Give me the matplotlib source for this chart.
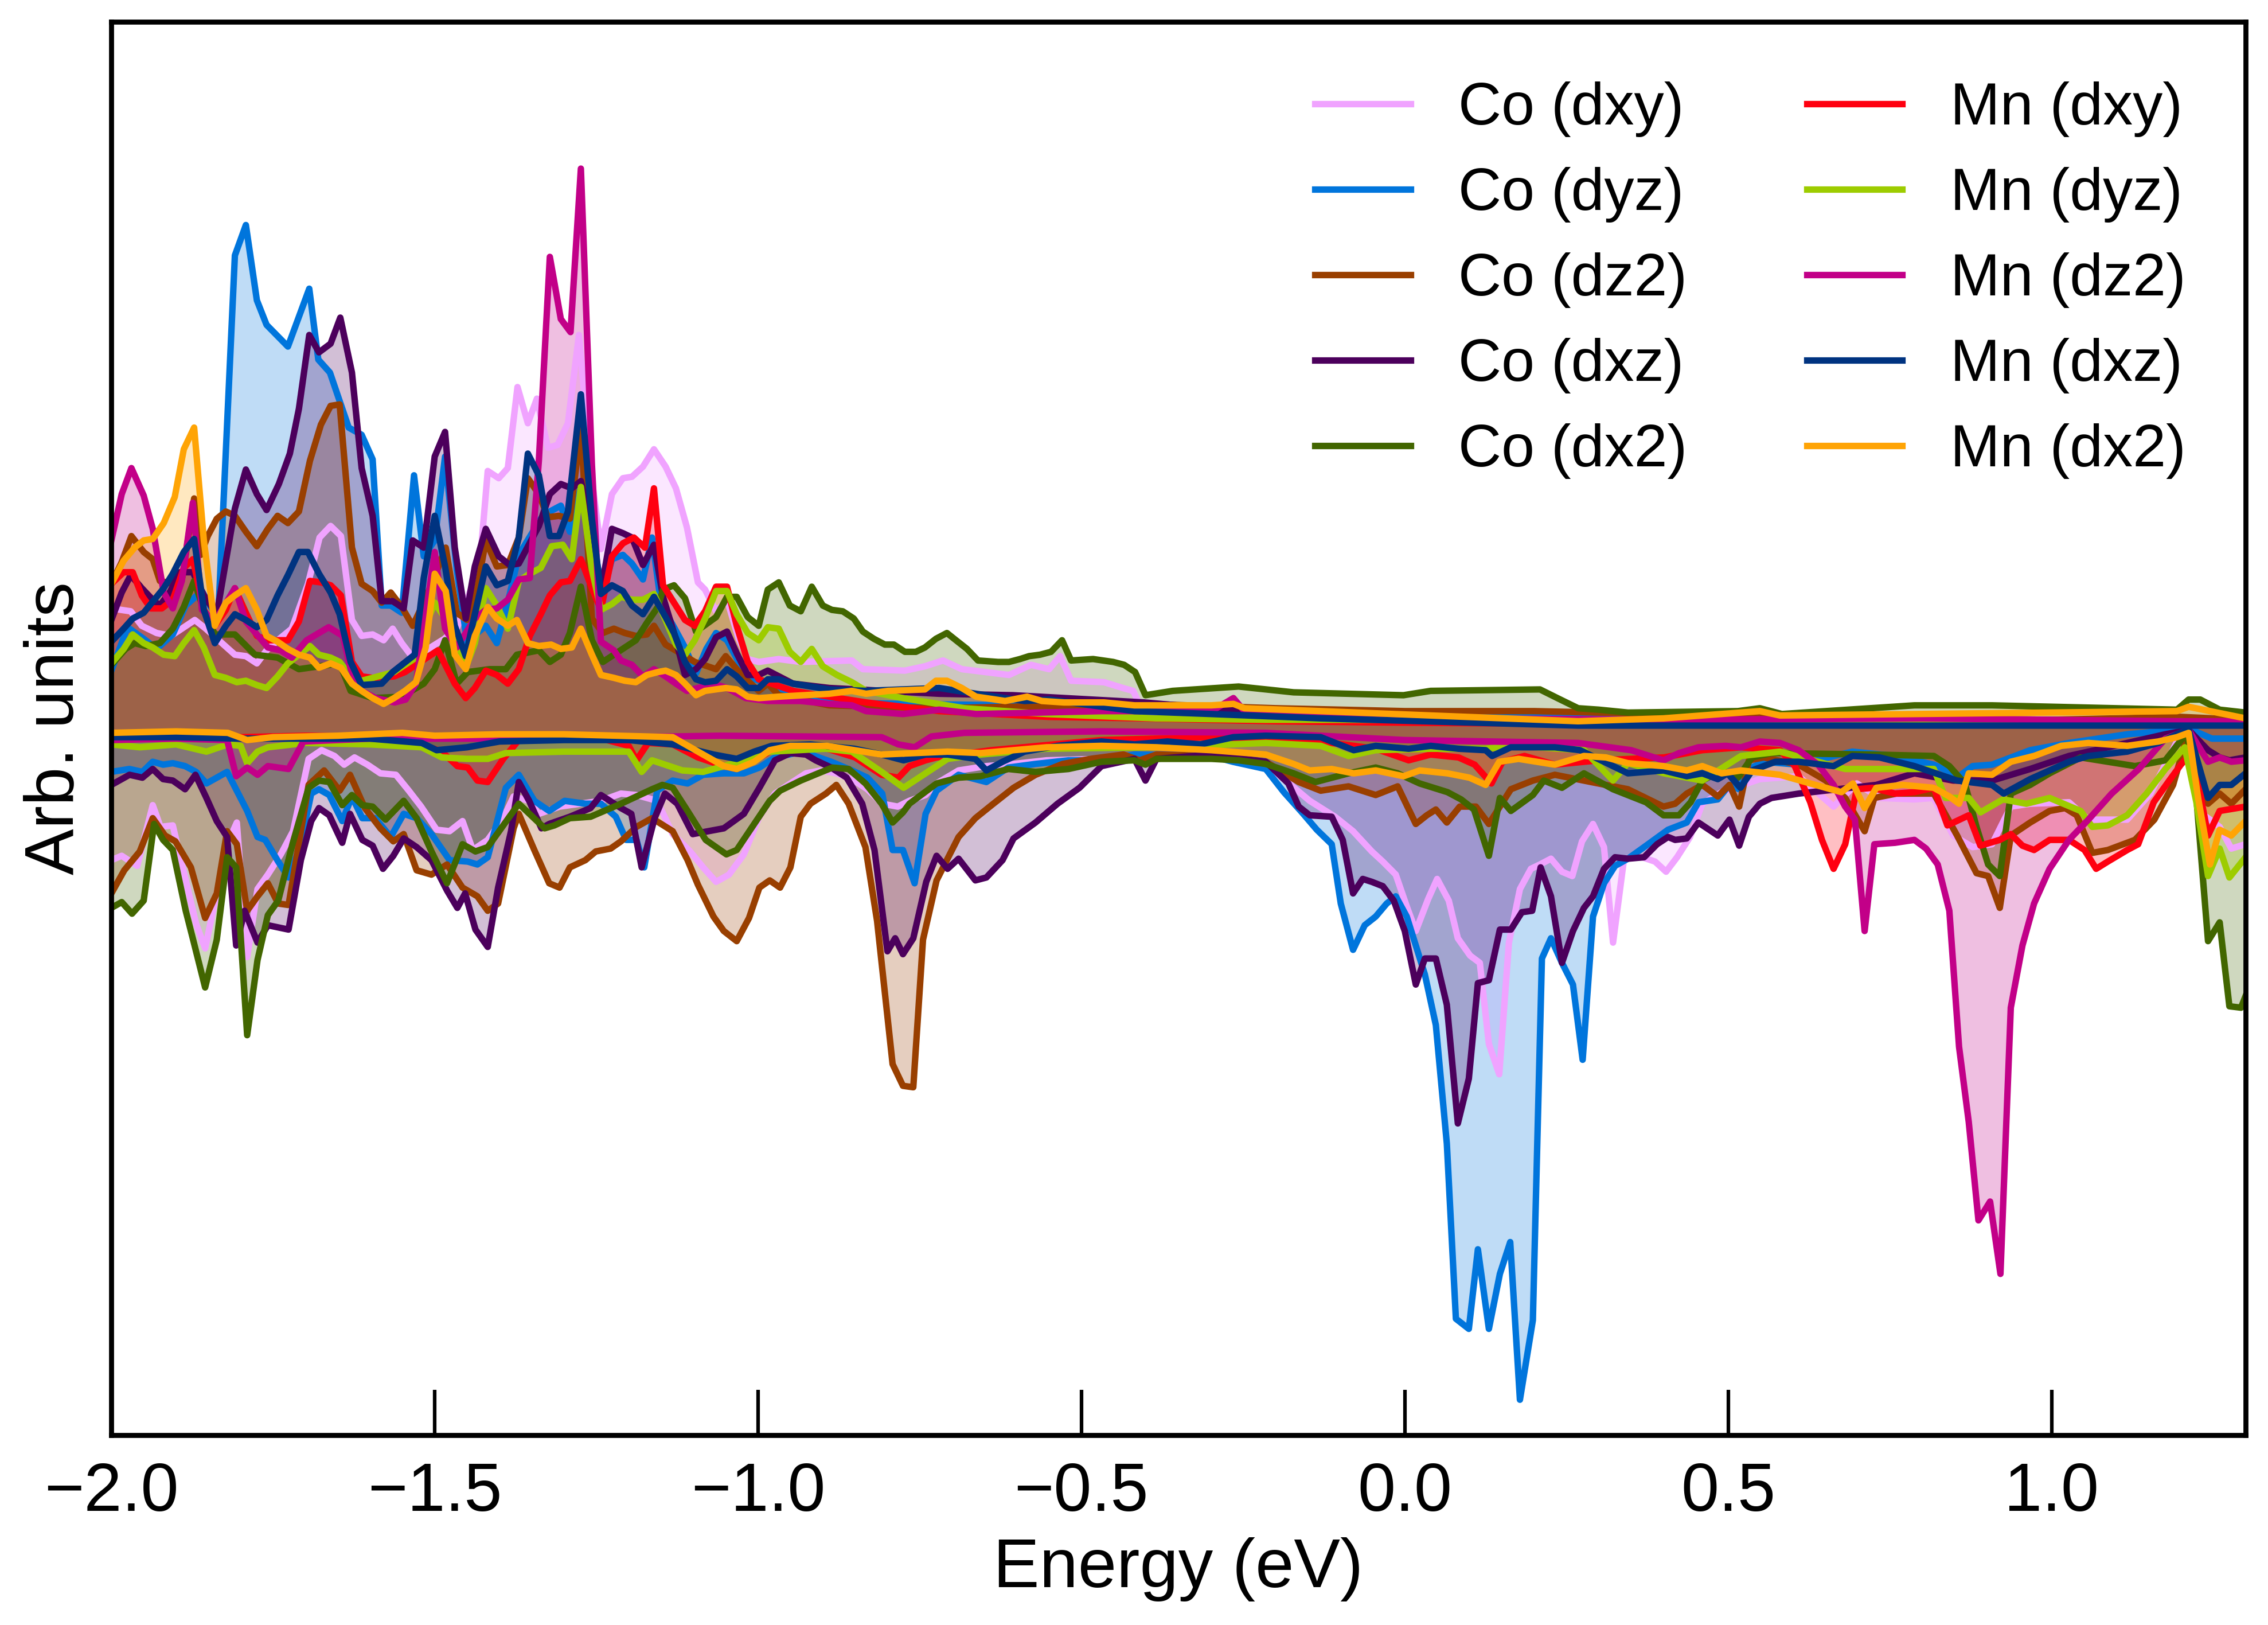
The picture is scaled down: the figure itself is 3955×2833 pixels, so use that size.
import matplotlib
matplotlib.use("Agg")
import matplotlib.pyplot as plt

# ---------------------------------------------------------------------------
# projected DOS: (energy [eV], DOS [arb.]) pairs
# spin up is positive, spin down negative
# ---------------------------------------------------------------------------
co_dxy_up = [(-2.0, 0.83), (-1.97, 0.81), (-1.953, 0.71), (-1.93, 0.66), (-1.908, 0.64), (-1.891, 0.69),
             (-1.871, 0.75), (-1.854, 0.69), (-1.834, 0.61), (-1.809, 0.51), (-1.792, 0.50), (-1.775, 0.45),
             (-1.76, 0.54), (-1.74, 0.62), (-1.721, 0.69), (-1.696, 1.00), (-1.678, 1.32), (-1.661, 1.40),
             (-1.645, 1.33), (-1.628, 0.75), (-1.613, 0.64), (-1.596, 0.65), (-1.579, 0.61), (-1.565, 0.69),
             (-1.551, 0.59), (-1.534, 0.49), (-1.51, 0.55), (-1.485, 0.62), (-1.465, 0.70), (-1.445, 0.95),
             (-1.43, 1.15), (-1.418, 1.78), (-1.401, 1.73), (-1.387, 1.80), (-1.372, 2.36), (-1.356, 2.11),
             (-1.342, 2.28), (-1.325, 1.94), (-1.31, 1.96), (-1.294, 2.11), (-1.277, 2.72), (-1.257, 1.72),
             (-1.243, 1.24), (-1.226, 1.62), (-1.209, 1.73), (-1.195, 1.74), (-1.178, 1.81), (-1.161, 1.93),
             (-1.143, 1.81), (-1.127, 1.66), (-1.11, 1.39), (-1.093, 1.01), (-1.082, 0.96), (-1.065, 0.81),
             (-1.048, 0.89), (-1.03, 0.62), (-1.016, 0.48), (-0.999, 0.46), (-0.968, 0.48), (-0.934, 0.46),
             (-0.855, 0.47), (-0.838, 0.41), (-0.773, 0.40), (-0.742, 0.43), (-0.714, 0.47), (-0.685, 0.41),
             (-0.612, 0.37), (-0.578, 0.44), (-0.55, 0.41), (-0.533, 0.50), (-0.516, 0.33), (-0.465, 0.32),
             (-0.436, 0.28), (-0.42, 0.26), (-0.403, 0.10), (-0.3, 0.08), (-0.1, 0.07), (0.1, 0.06), (0.3, 0.05),
             (0.5, 0.04), (0.7, 0.04), (0.9, 0.04), (1.1, 0.05), (1.21, 0.06), (1.3, 0.04)]
co_dxy_dn = [(-2.0, -0.91), (-1.984, -0.88), (-1.96, -0.95), (-1.936, -0.53), (-1.924, -0.68), (-1.905, -0.67),
             (-1.885, -1.05), (-1.869, -1.35), (-1.855, -1.52), (-1.837, -1.14), (-1.821, -0.80), (-1.806, -0.65),
             (-1.79, -1.58), (-1.774, -1.11), (-1.758, -1.01), (-1.738, -0.87), (-1.719, -0.71), (-1.695, -0.21),
             (-1.675, -0.15), (-1.655, -0.19), (-1.64, -0.25), (-1.624, -0.20), (-1.604, -0.25), (-1.584, -0.31),
             (-1.56, -0.32), (-1.54, -0.43), (-1.521, -0.54), (-1.497, -0.70), (-1.477, -0.71), (-1.457, -0.64),
             (-1.441, -0.84), (-1.418, -0.77), (-1.394, -0.62), (-1.378, -0.47), (-1.354, -0.50), (-1.339, -0.59),
             (-1.307, -0.54), (-1.275, -0.52), (-1.243, -0.50), (-1.212, -0.45), (-1.188, -0.46), (-1.156, -0.50),
             (-1.132, -0.73), (-1.105, -0.85), (-1.085, -0.96), (-1.065, -1.06), (-1.045, -1.01), (-1.022, -0.87),
             (-0.998, -0.61), (-0.974, -0.45), (-0.95, -0.38), (-0.926, -0.31), (-0.903, -0.29), (-0.879, -0.31),
             (-0.855, -0.35), (-0.831, -0.42), (-0.808, -0.52), (-0.784, -0.54), (-0.766, -0.50), (-0.741, -0.46),
             (-0.724, -0.38), (-0.69, -0.29), (-0.647, -0.26), (-0.605, -0.245), (-0.554, -0.22), (-0.469, -0.21),
             (-0.384, -0.19), (-0.299, -0.19), (-0.215, -0.245), (-0.147, -0.50), (-0.108, -0.61), (-0.08, -0.71),
             (-0.051, -0.85), (-0.034, -0.92), (-0.014, -1.01), (0.003, -1.23), (0.017, -1.40), (0.036, -1.18),
             (0.05, -1.04), (0.068, -1.19), (0.082, -1.45), (0.101, -1.57), (0.116, -1.62), (0.13, -2.18),
             (0.146, -2.39), (0.161, -1.48), (0.178, -1.11), (0.195, -0.97), (0.209, -0.94), (0.226, -0.90),
             (0.243, -0.99), (0.259, -1.02), (0.274, -0.78), (0.291, -0.66), (0.308, -0.82), (0.322, -1.48),
             (0.339, -0.90), (0.367, -0.89), (0.387, -0.92), (0.404, -0.99), (0.421, -0.89), (0.441, -0.75),
             (0.46, -0.52), (0.49, -0.44), (0.549, -0.35), (0.609, -0.33), (0.663, -0.54), (0.699, -0.38),
             (0.734, -0.48), (0.788, -0.49), (0.818, -0.48), (0.848, -0.74), (0.878, -0.82), (0.908, -0.80),
             (0.937, -0.54), (0.967, -0.52), (1.027, -0.51), (1.057, -0.63), (1.117, -0.63), (1.153, -0.45),
             (1.194, -0.09), (1.212, -0.01), (1.236, -0.60), (1.26, -0.68), (1.278, -0.83), (1.3, -0.80)]

co_dyz_up = [(-2.0, 0.40), (-1.975, 0.70), (-1.95, 0.62), (-1.93, 0.55), (-1.905, 0.65), (-1.885, 0.85),
             (-1.86, 0.95), (-1.835, 0.75), (-1.809, 3.27), (-1.792, 3.48), (-1.775, 2.96), (-1.76, 2.79),
             (-1.727, 2.64), (-1.694, 3.04), (-1.68, 2.55), (-1.662, 2.46), (-1.633, 2.08), (-1.613, 2.03),
             (-1.596, 1.86), (-1.582, 0.85), (-1.568, 0.85), (-1.551, 0.80), (-1.532, 1.75), (-1.517, 1.19),
             (-1.5, 1.30), (-1.484, 1.88), (-1.466, 1.10), (-1.45, 0.60), (-1.421, 0.71), (-1.404, 0.59),
             (-1.387, 0.87), (-1.37, 1.20), (-1.336, 1.45), (-1.322, 1.50), (-1.305, 1.54), (-1.291, 1.36),
             (-1.274, 1.67), (-1.257, 1.32), (-1.24, 0.94), (-1.226, 1.17), (-1.209, 1.20), (-1.195, 1.14),
             (-1.178, 1.03), (-1.164, 1.32), (-1.15, 0.86), (-1.13, 0.70), (-1.113, 0.56), (-1.096, 0.38),
             (-1.08, 0.55), (-1.065, 0.66), (-1.048, 0.61), (-1.03, 0.46), (-1.016, 0.36), (-0.999, 0.33),
             (-0.985, 0.31), (-0.946, 0.21), (-0.89, 0.18), (-0.776, 0.17), (-0.606, 0.16), (-0.403, 0.14),
             (-0.2, 0.12), (0.0, 0.10), (0.2, 0.09), (0.4, 0.08), (0.6, 0.07), (0.8, 0.06), (1.0, 0.06),
             (1.2, 0.05), (1.3, 0.05)]
co_dyz_dn = [(-2.0, -0.30), (-1.972, -0.28), (-1.952, -0.30), (-1.936, -0.23), (-1.92, -0.25), (-1.905, -0.24),
             (-1.886, -0.26), (-1.869, -0.30), (-1.853, -0.38), (-1.821, -0.30), (-1.79, -0.57), (-1.774, -0.75),
             (-1.762, -0.77), (-1.742, -0.92), (-1.726, -1.03), (-1.707, -0.80), (-1.691, -0.45), (-1.679, -0.42),
             (-1.663, -0.46), (-1.643, -0.64), (-1.628, -0.47), (-1.612, -0.62), (-1.592, -0.62), (-1.568, -0.75),
             (-1.548, -0.59), (-1.528, -0.62), (-1.505, -0.73), (-1.477, -0.91), (-1.449, -0.92), (-1.434, -0.94),
             (-1.418, -0.89), (-1.39, -0.41), (-1.37, -0.32), (-1.346, -0.50), (-1.323, -0.57), (-1.299, -0.50),
             (-1.267, -0.52), (-1.243, -0.52), (-1.22, -0.61), (-1.204, -0.77), (-1.188, -0.77), (-1.176, -0.96),
             (-1.156, -0.43), (-1.132, -0.36), (-1.109, -0.38), (-1.085, -0.32), (-1.053, -0.31), (-1.022, -0.31),
             (-0.998, -0.27), (-0.974, -0.20), (-0.942, -0.17), (-0.919, -0.18), (-0.887, -0.23), (-0.855, -0.29),
             (-0.831, -0.34), (-0.808, -0.45), (-0.792, -0.84), (-0.776, -0.84), (-0.758, -1.07), (-0.741, -0.59),
             (-0.724, -0.43), (-0.69, -0.32), (-0.647, -0.37), (-0.613, -0.27), (-0.571, -0.245), (-0.52, -0.22),
             (-0.469, -0.22), (-0.418, -0.18), (-0.299, -0.19), (-0.266, -0.23), (-0.215, -0.28), (-0.187, -0.44),
             (-0.159, -0.58), (-0.136, -0.70), (-0.113, -0.80), (-0.099, -1.21), (-0.08, -1.53), (-0.062, -1.36),
             (-0.045, -1.30), (-0.028, -1.21), (-0.014, -1.16), (0.003, -1.30), (0.031, -1.70), (0.048, -2.05),
             (0.065, -2.87), (0.079, -4.08), (0.099, -4.15), (0.113, -3.60), (0.13, -4.15), (0.147, -3.77),
             (0.163, -3.55), (0.178, -4.64), (0.198, -4.09), (0.212, -1.59), (0.226, -1.45), (0.243, -1.62),
             (0.26, -1.77), (0.275, -2.29), (0.291, -1.30), (0.308, -1.07), (0.325, -0.95), (0.345, -0.90),
             (0.37, -0.82), (0.407, -0.70), (0.436, -0.65), (0.454, -0.51), (0.484, -0.49), (0.502, -0.39),
             (0.517, -0.42), (0.532, -0.28), (0.555, -0.23), (0.609, -0.25), (0.692, -0.16), (0.758, -0.19),
             (0.818, -0.25), (0.857, -0.33), (0.878, -0.26), (0.908, -0.25), (0.967, -0.15), (1.027, -0.10),
             (1.117, -0.04), (1.194, -0.01), (1.212, 0.0), (1.248, -0.07), (1.3, -0.07)]

co_dz2_up = [(-2.0, 1.00), (-1.984, 1.15), (-1.969, 1.33), (-1.95, 1.22), (-1.936, 1.17), (-1.925, 1.02),
             (-1.905, 1.00), (-1.89, 1.05), (-1.872, 1.59), (-1.862, 1.20), (-1.851, 1.33), (-1.837, 1.45),
             (-1.823, 1.50), (-1.809, 1.47), (-1.792, 1.36), (-1.775, 1.26), (-1.758, 1.38), (-1.743, 1.47),
             (-1.727, 1.42), (-1.71, 1.50), (-1.693, 1.85), (-1.676, 2.10), (-1.661, 2.23), (-1.647, 2.24),
             (-1.628, 1.25), (-1.613, 1.00), (-1.596, 0.95), (-1.582, 0.87), (-1.568, 0.94), (-1.551, 0.84),
             (-1.534, 0.71), (-1.517, 0.87), (-1.5, 1.05), (-1.483, 1.25), (-1.466, 0.80), (-1.45, 0.75),
             (-1.435, 0.95), (-1.421, 1.30), (-1.404, 1.12), (-1.387, 1.13), (-1.37, 1.32), (-1.356, 1.73),
             (-1.339, 1.62), (-1.325, 1.46), (-1.308, 1.47), (-1.291, 1.45), (-1.274, 2.08), (-1.257, 0.76),
             (-1.24, 0.66), (-1.223, 0.69), (-1.206, 0.66), (-1.189, 0.64), (-1.172, 0.65), (-1.161, 0.71),
             (-1.143, 0.58), (-1.12, 0.52), (-1.098, 0.46), (-1.065, 0.41), (-1.05, 0.50), (-1.033, 0.41),
             (-1.016, 0.33), (-0.999, 0.26), (-0.985, 0.31), (-0.968, 0.23), (-0.89, 0.16), (-0.72, 0.14),
             (-0.403, 0.17), (-0.2, 0.14), (0.0, 0.12), (0.2, 0.12), (0.4, 0.10), (0.6, 0.08), (0.8, 0.07),
             (1.0, 0.06), (1.2, 0.08), (1.3, 0.06)]
co_dz2_dn = [(-2.0, -1.14), (-1.98, -0.98), (-1.956, -0.85), (-1.936, -0.62), (-1.917, -0.74), (-1.901, -0.78),
             (-1.877, -0.96), (-1.855, -1.31), (-1.837, -1.14), (-1.821, -0.71), (-1.806, -0.80), (-1.79, -1.26),
             (-1.774, -1.16), (-1.758, -1.07), (-1.742, -1.21), (-1.726, -1.22), (-1.695, -0.39), (-1.671, -0.29),
             (-1.647, -0.43), (-1.631, -0.32), (-1.608, -0.55), (-1.584, -0.69), (-1.564, -0.78), (-1.548, -0.73),
             (-1.528, -0.98), (-1.505, -1.01), (-1.481, -0.94), (-1.457, -1.10), (-1.434, -1.16), (-1.418, -1.26),
             (-1.402, -1.21), (-1.378, -0.69), (-1.37, -0.59), (-1.346, -0.84), (-1.323, -1.07), (-1.307, -1.10),
             (-1.291, -0.96), (-1.267, -0.91), (-1.251, -0.85), (-1.228, -0.83), (-1.212, -0.78), (-1.188, -0.68),
             (-1.164, -0.62), (-1.132, -0.71), (-1.109, -0.91), (-1.093, -1.08), (-1.069, -1.30), (-1.053, -1.40),
             (-1.033, -1.47), (-1.014, -1.31), (-0.998, -1.10), (-0.982, -1.05), (-0.966, -1.10), (-0.95, -0.96),
             (-0.934, -0.61), (-0.919, -0.52), (-0.895, -0.45), (-0.879, -0.39), (-0.86, -0.52), (-0.834, -0.82),
             (-0.816, -1.33), (-0.792, -2.32), (-0.776, -2.47), (-0.76, -2.48), (-0.745, -1.46), (-0.724, -1.05),
             (-0.707, -0.90), (-0.69, -0.75), (-0.664, -0.62), (-0.639, -0.53), (-0.605, -0.41), (-0.571, -0.32),
             (-0.529, -0.245), (-0.486, -0.21), (-0.435, -0.18), (-0.41, -0.22), (-0.384, -0.18), (-0.299, -0.19),
             (-0.215, -0.23), (-0.164, -0.37), (-0.13, -0.43), (-0.087, -0.40), (-0.045, -0.46), (-0.011, -0.40),
             (0.017, -0.66), (0.034, -0.60), (0.048, -0.56), (0.065, -0.65), (0.085, -0.54), (0.11, -0.54),
             (0.13, -0.66), (0.164, -0.42), (0.198, -0.36), (0.232, -0.32), (0.288, -0.37), (0.345, -0.42),
             (0.40, -0.54), (0.418, -0.52), (0.436, -0.45), (0.46, -0.39), (0.484, -0.47), (0.502, -0.39),
             (0.517, -0.54), (0.532, -0.22), (0.555, -0.20), (0.609, -0.25), (0.651, -0.36), (0.681, -0.48),
             (0.711, -0.71), (0.726, -0.48), (0.76, -0.45), (0.818, -0.45), (0.854, -0.74), (0.884, -1.00),
             (0.902, -1.02), (0.92, -1.24), (0.937, -0.74), (0.967, -0.65), (0.997, -0.57), (1.021, -0.55),
             (1.039, -0.60), (1.063, -0.86), (1.087, -0.84), (1.129, -0.77), (1.159, -0.63), (1.188, -0.39),
             (1.209, -0.06), (1.23, -0.45), (1.242, -0.52), (1.26, -0.45), (1.278, -0.52), (1.3, -0.42)]

co_dxz_up = [(-2.0, 0.75), (-1.984, 0.94), (-1.97, 1.06), (-1.953, 0.97), (-1.936, 0.89), (-1.925, 0.85),
             (-1.91, 0.94), (-1.894, 1.08), (-1.874, 1.08), (-1.857, 0.92), (-1.837, 0.79), (-1.809, 1.52),
             (-1.792, 1.79), (-1.775, 1.62), (-1.76, 1.51), (-1.741, 1.69), (-1.724, 1.90), (-1.71, 2.21),
             (-1.694, 2.72), (-1.679, 2.60), (-1.661, 2.66), (-1.646, 2.84), (-1.628, 2.46), (-1.613, 1.80),
             (-1.596, 1.47), (-1.582, 0.88), (-1.565, 0.88), (-1.548, 0.83), (-1.534, 1.30), (-1.517, 1.25),
             (-1.5, 1.88), (-1.484, 2.05), (-1.469, 1.25), (-1.452, 0.76), (-1.438, 1.12), (-1.421, 1.38),
             (-1.401, 1.19), (-1.384, 1.13), (-1.37, 1.14), (-1.339, 1.40), (-1.322, 1.62), (-1.305, 1.69),
             (-1.288, 1.66), (-1.274, 1.71), (-1.257, 1.37), (-1.243, 0.95), (-1.226, 1.38), (-1.209, 1.35),
             (-1.195, 1.32), (-1.178, 1.13), (-1.161, 1.27), (-1.147, 0.91), (-1.13, 0.66), (-1.113, 0.37),
             (-1.096, 0.41), (-1.082, 0.48), (-1.065, 0.63), (-1.048, 0.67), (-1.033, 0.52), (-1.016, 0.37),
             (-0.999, 0.37), (-0.985, 0.40), (-0.946, 0.31), (-0.89, 0.28), (-0.72, 0.24), (-0.606, 0.23),
             (-0.403, 0.18), (-0.2, 0.10), (0.0, 0.07), (0.3, 0.05), (0.6, 0.04), (0.9, 0.04), (1.2, 0.05),
             (1.3, 0.04)]
co_dxz_dn = [(-2.0, -0.39), (-1.972, -0.32), (-1.952, -0.34), (-1.936, -0.28), (-1.92, -0.35), (-1.905, -0.36),
             (-1.886, -0.42), (-1.87, -0.32), (-1.853, -0.48), (-1.837, -0.64), (-1.821, -0.75), (-1.807, -1.50),
             (-1.794, -1.26), (-1.774, -1.48), (-1.758, -1.36), (-1.726, -1.39), (-1.707, -0.91), (-1.691, -0.64),
             (-1.679, -0.55), (-1.663, -0.60), (-1.643, -0.79), (-1.631, -0.59), (-1.612, -0.77), (-1.596, -0.81),
             (-1.58, -0.97), (-1.564, -0.88), (-1.548, -0.76), (-1.528, -0.82), (-1.505, -0.91), (-1.481, -1.12),
             (-1.465, -1.24), (-1.453, -1.14), (-1.437, -1.39), (-1.418, -1.51), (-1.402, -1.10), (-1.382, -0.71),
             (-1.37, -0.37), (-1.354, -0.50), (-1.335, -0.69), (-1.323, -0.66), (-1.291, -0.61), (-1.259, -0.55),
             (-1.243, -0.46), (-1.212, -0.55), (-1.196, -0.59), (-1.18, -0.96), (-1.16, -0.62), (-1.144, -0.45),
             (-1.125, -0.52), (-1.109, -0.66), (-1.101, -0.73), (-1.077, -0.71), (-1.053, -0.69), (-1.022, -0.59),
             (-0.998, -0.41), (-0.974, -0.22), (-0.95, -0.17), (-0.926, -0.18), (-0.911, -0.22), (-0.887, -0.27),
             (-0.863, -0.34), (-0.839, -0.52), (-0.82, -0.84), (-0.80, -1.54), (-0.788, -1.45), (-0.776, -1.56),
             (-0.76, -1.45), (-0.74, -1.06), (-0.724, -0.88), (-0.707, -0.97), (-0.69, -0.90), (-0.664, -1.05),
             (-0.647, -1.03), (-0.622, -0.91), (-0.605, -0.76), (-0.571, -0.65), (-0.537, -0.52), (-0.503, -0.41),
             (-0.469, -0.26), (-0.418, -0.21), (-0.401, -0.36), (-0.384, -0.21), (-0.299, -0.18), (-0.215, -0.23),
             (-0.18, -0.38), (-0.164, -0.54), (-0.147, -0.60), (-0.113, -0.61), (-0.096, -0.77), (-0.08, -1.14),
             (-0.065, -1.04), (-0.051, -1.06), (-0.034, -1.09), (-0.017, -1.19), (0.0, -1.40), (0.017, -1.77),
             (0.031, -1.59), (0.048, -1.59), (0.065, -1.91), (0.082, -2.73), (0.099, -2.42), (0.113, -1.76),
             (0.13, -1.74), (0.147, -1.39), (0.164, -1.39), (0.181, -1.27), (0.197, -1.26), (0.21, -0.96),
             (0.226, -1.16), (0.243, -1.62), (0.26, -1.40), (0.277, -1.24), (0.291, -1.16), (0.308, -0.97),
             (0.325, -0.89), (0.345, -0.90), (0.37, -0.89), (0.39, -0.80), (0.407, -0.75), (0.418, -0.77),
             (0.436, -0.76), (0.454, -0.65), (0.484, -0.74), (0.502, -0.63), (0.517, -0.81), (0.532, -0.61),
             (0.549, -0.52), (0.567, -0.48), (0.609, -0.45), (0.669, -0.42), (0.729, -0.39), (0.788, -0.31),
             (0.848, -0.36), (0.908, -0.36), (0.967, -0.28), (1.027, -0.19), (1.117, -0.10), (1.176, -0.04),
             (1.212, -0.01), (1.242, -0.15), (1.26, -0.20), (1.275, -0.22), (1.3, -0.20)]

co_dx2_up = [(-2.0, 0.44), (-1.978, 0.55), (-1.964, 0.59), (-1.947, 0.57), (-1.925, 0.59), (-1.905, 0.69),
             (-1.888, 0.84), (-1.872, 1.02), (-1.857, 0.82), (-1.84, 0.65), (-1.809, 0.65), (-1.778, 0.51),
             (-1.743, 0.49), (-1.71, 0.41), (-1.647, 0.45), (-1.63, 0.26), (-1.596, 0.21), (-1.551, 0.22),
             (-1.517, 0.31), (-1.5, 0.41), (-1.484, 0.61), (-1.466, 0.31), (-1.449, 0.39), (-1.415, 0.41),
             (-1.39, 0.41), (-1.373, 0.51), (-1.339, 0.54), (-1.322, 0.46), (-1.305, 0.51), (-1.291, 0.66),
             (-1.274, 0.98), (-1.257, 0.61), (-1.24, 0.46), (-1.206, 0.56), (-1.189, 0.61), (-1.172, 0.73),
             (-1.155, 0.84), (-1.147, 0.96), (-1.13, 0.99), (-1.113, 0.90), (-1.096, 0.67), (-1.065, 0.77),
             (-1.048, 0.91), (-1.033, 0.91), (-1.016, 0.77), (-0.999, 0.71), (-0.985, 0.96), (-0.968, 1.01),
             (-0.951, 0.85), (-0.934, 0.81), (-0.917, 0.98), (-0.9, 0.85), (-0.886, 0.82), (-0.869, 0.81),
             (-0.852, 0.76), (-0.838, 0.67), (-0.821, 0.62), (-0.804, 0.58), (-0.79, 0.58), (-0.773, 0.53),
             (-0.756, 0.53), (-0.742, 0.56), (-0.725, 0.62), (-0.708, 0.66), (-0.694, 0.61), (-0.677, 0.55),
             (-0.66, 0.47), (-0.629, 0.46), (-0.612, 0.46), (-0.595, 0.48), (-0.581, 0.50), (-0.564, 0.51),
             (-0.547, 0.53), (-0.53, 0.61), (-0.516, 0.47), (-0.482, 0.48), (-0.451, 0.46), (-0.434, 0.44),
             (-0.417, 0.39), (-0.401, 0.23), (-0.359, 0.26), (-0.257, 0.29), (-0.172, 0.25), (-0.002, 0.23),
             (0.04, 0.26), (0.209, 0.27), (0.236, 0.21), (0.268, 0.14), (0.3, 0.13), (0.345, 0.11), (0.515, 0.12),
             (0.549, 0.14), (0.583, 0.10), (0.788, 0.16), (0.908, 0.16), (1.194, 0.13), (1.212, 0.20),
             (1.23, 0.20), (1.26, 0.13), (1.3, 0.11)]
co_dx2_dn = [(-2.0, -1.24), (-1.984, -1.20), (-1.968, -1.28), (-1.95, -1.19), (-1.934, -0.66), (-1.92, -0.77),
             (-1.905, -0.84), (-1.885, -1.26), (-1.873, -1.47), (-1.855, -1.79), (-1.837, -1.46), (-1.821, -0.89),
             (-1.807, -0.96), (-1.79, -2.12), (-1.774, -1.60), (-1.758, -1.29), (-1.742, -1.19), (-1.72, -0.80),
             (-1.695, -0.41), (-1.679, -0.36), (-1.663, -0.37), (-1.643, -0.53), (-1.628, -0.46), (-1.612, -0.53),
             (-1.596, -0.54), (-1.576, -0.63), (-1.548, -0.50), (-1.528, -0.62), (-1.505, -0.85), (-1.481, -1.07),
             (-1.457, -0.80), (-1.437, -0.85), (-1.418, -0.82), (-1.386, -0.62), (-1.37, -0.52), (-1.33, -0.69),
             (-1.315, -0.67), (-1.291, -0.62), (-1.259, -0.61), (-1.212, -0.52), (-1.164, -0.42), (-1.148, -0.39),
             (-1.132, -0.41), (-1.109, -0.57), (-1.081, -0.77), (-1.049, -0.87), (-1.033, -0.84), (-1.006, -0.66),
             (-0.982, -0.50), (-0.966, -0.43), (-0.934, -0.36), (-0.907, -0.31), (-0.885, -0.27), (-0.86, -0.28),
             (-0.834, -0.38), (-0.809, -0.52), (-0.792, -0.65), (-0.776, -0.58), (-0.766, -0.52), (-0.724, -0.38),
             (-0.69, -0.34), (-0.656, -0.33), (-0.613, -0.28), (-0.571, -0.30), (-0.52, -0.28), (-0.469, -0.23),
             (-0.418, -0.22), (-0.401, -0.25), (-0.384, -0.21), (-0.299, -0.21), (-0.257, -0.22), (-0.215, -0.245),
             (-0.172, -0.31), (-0.138, -0.37), (-0.087, -0.31), (-0.045, -0.27), (-0.011, -0.31), (0.023, -0.38),
             (0.066, -0.44), (0.087, -0.49), (0.107, -0.56), (0.13, -0.88), (0.147, -0.48), (0.164, -0.57),
             (0.198, -0.46), (0.215, -0.36), (0.243, -0.41), (0.277, -0.31), (0.322, -0.42), (0.373, -0.51),
             (0.40, -0.60), (0.424, -0.60), (0.442, -0.51), (0.46, -0.36), (0.49, -0.29), (0.515, -0.34),
             (0.537, -0.20), (0.567, -0.17), (0.722, -0.18), (0.818, -0.19), (0.842, -0.26), (0.866, -0.38),
             (0.884, -0.68), (0.902, -0.94), (0.92, -1.02), (0.937, -0.45), (0.967, -0.39), (0.997, -0.31),
             (1.045, -0.20), (1.129, -0.26), (1.176, -0.22), (1.209, -0.03), (1.224, -0.48), (1.242, -1.47),
             (1.26, -1.34), (1.275, -1.92), (1.293, -1.93), (1.3, -1.85)]

mn_dxy_up = [(-2.0, 1.00), (-1.981, 1.08), (-1.967, 1.08), (-1.953, 0.92), (-1.939, 0.83), (-1.922, 0.83),
             (-1.905, 0.89), (-1.888, 1.11), (-1.874, 1.17), (-1.857, 0.82), (-1.84, 0.71), (-1.823, 0.82),
             (-1.809, 0.97), (-1.792, 0.80), (-1.775, 0.64), (-1.758, 0.61), (-1.727, 0.61), (-1.71, 0.74),
             (-1.693, 1.02), (-1.676, 1.01), (-1.661, 0.99), (-1.645, 0.92), (-1.628, 0.46), (-1.613, 0.36),
             (-1.596, 0.35), (-1.563, 0.36), (-1.546, 0.39), (-1.529, 0.44), (-1.495, 0.54), (-1.469, 0.31),
             (-1.452, 0.21), (-1.438, 0.28), (-1.421, 0.40), (-1.404, 0.37), (-1.387, 0.31), (-1.37, 0.41),
             (-1.353, 0.64), (-1.336, 0.79), (-1.322, 0.92), (-1.305, 1.01), (-1.291, 1.02), (-1.274, 1.17),
             (-1.257, 0.97), (-1.243, 0.82), (-1.226, 1.19), (-1.209, 1.28), (-1.192, 1.32), (-1.175, 1.25),
             (-1.161, 1.66), (-1.147, 0.99), (-1.13, 0.87), (-1.113, 0.75), (-1.098, 0.71), (-1.082, 0.81),
             (-1.065, 0.98), (-1.048, 0.98), (-1.033, 0.71), (-1.016, 0.46), (-0.999, 0.34), (-0.946, 0.26),
             (-0.89, 0.22), (-0.833, 0.18), (-0.72, 0.12), (-0.55, 0.08), (-0.403, 0.07), (-0.2, 0.05),
             (0.0, 0.04), (0.3, 0.03), (0.6, 0.03), (0.9, 0.04), (1.2, 0.03), (1.3, 0.03)]
mn_dxy_dn = [(-2.0, -0.04), (-1.85, -0.05), (-1.8, -0.06), (-1.7, -0.05), (-1.55, -0.06), (-1.489, -0.16),
             (-1.465, -0.26), (-1.449, -0.27), (-1.434, -0.36), (-1.418, -0.37), (-1.394, -0.21), (-1.37, -0.08),
             (-1.25, -0.06), (-1.2, -0.12), (-1.188, -0.22), (-1.17, -0.10), (-1.132, -0.11), (-1.093, -0.20),
             (-1.053, -0.26), (-1.033, -0.28), (-1.006, -0.22), (-0.974, -0.14), (-0.9, -0.13), (-0.85, -0.20),
             (-0.809, -0.32), (-0.783, -0.34), (-0.766, -0.26), (-0.741, -0.22), (-0.724, -0.20), (-0.639, -0.15),
             (-0.469, -0.08), (-0.299, -0.06), (-0.13, -0.09), (-0.045, -0.14), (0.006, -0.22), (0.04, -0.18),
             (0.083, -0.20), (0.108, -0.25), (0.134, -0.38), (0.151, -0.23), (0.185, -0.19), (0.232, -0.25),
             (0.3, -0.22), (0.401, -0.20), (0.46, -0.15), (0.52, -0.13), (0.58, -0.15), (0.603, -0.26),
             (0.627, -0.51), (0.645, -0.77), (0.663, -0.97), (0.681, -0.80), (0.699, -0.42), (0.723, -0.41),
             (0.758, -0.45), (0.788, -0.44), (0.818, -0.41), (0.839, -0.67), (0.872, -0.60), (0.89, -0.81),
             (0.92, -0.77), (0.937, -0.73), (0.955, -0.81), (0.973, -0.84), (0.997, -0.77), (1.027, -0.77),
             (1.051, -0.84), (1.069, -0.97), (1.087, -0.92), (1.117, -0.84), (1.134, -0.80), (1.158, -0.51),
             (1.182, -0.36), (1.2, -0.25), (1.212, -0.19), (1.224, -0.31), (1.242, -0.74), (1.26, -0.57),
             (1.3, -0.54)]

mn_dyz_up = [(-2.0, 0.45), (-1.981, 0.55), (-1.967, 0.65), (-1.95, 0.59), (-1.936, 0.56), (-1.919, 0.51),
             (-1.902, 0.50), (-1.888, 0.59), (-1.872, 0.68), (-1.857, 0.56), (-1.84, 0.37), (-1.823, 0.35),
             (-1.806, 0.32), (-1.792, 0.33), (-1.775, 0.30), (-1.76, 0.28), (-1.743, 0.36), (-1.727, 0.45),
             (-1.71, 0.51), (-1.693, 0.57), (-1.679, 0.51), (-1.661, 0.49), (-1.647, 0.46), (-1.63, 0.36),
             (-1.613, 0.33), (-1.596, 0.35), (-1.563, 0.39), (-1.546, 0.44), (-1.529, 0.49), (-1.515, 0.70),
             (-1.5, 0.87), (-1.469, 0.66), (-1.452, 0.42), (-1.438, 0.59), (-1.421, 0.97), (-1.404, 0.85),
             (-1.387, 0.69), (-1.37, 1.02), (-1.353, 1.07), (-1.336, 1.11), (-1.319, 1.26), (-1.302, 1.27),
             (-1.288, 1.17), (-1.274, 1.67), (-1.257, 1.10), (-1.243, 0.82), (-1.226, 0.86), (-1.212, 0.91),
             (-1.195, 0.89), (-1.178, 0.89), (-1.161, 0.93), (-1.143, 0.75), (-1.127, 0.58), (-1.113, 0.51),
             (-1.098, 0.61), (-1.082, 0.76), (-1.065, 0.95), (-1.048, 0.95), (-1.033, 0.79), (-1.016, 0.66),
             (-0.999, 0.61), (-0.985, 0.70), (-0.968, 0.69), (-0.951, 0.53), (-0.934, 0.46), (-0.917, 0.55),
             (-0.9, 0.43), (-0.878, 0.37), (-0.855, 0.32), (-0.833, 0.26), (-0.776, 0.21), (-0.681, 0.14),
             (-0.554, 0.10), (-0.384, 0.07), (-0.215, 0.06), (0.268, 0.06), (0.6, 0.04), (0.9, 0.04),
             (1.2, 0.05), (1.3, 0.04)]
mn_dyz_dn = [(-2.0, -0.11), (-1.956, -0.13), (-1.9, -0.11), (-1.853, -0.16), (-1.82, -0.11), (-1.8, -0.12),
             (-1.79, -0.24), (-1.774, -0.16), (-1.758, -0.13), (-1.7, -0.10), (-1.6, -0.11), (-1.52, -0.13),
             (-1.489, -0.20), (-1.45, -0.21), (-1.418, -0.21), (-1.39, -0.17), (-1.3, -0.16), (-1.2, -0.16),
             (-1.18, -0.30), (-1.164, -0.22), (-1.117, -0.29), (-1.085, -0.30), (-1.037, -0.24), (-0.982, -0.16),
             (-0.895, -0.14), (-0.855, -0.16), (-0.809, -0.30), (-0.775, -0.41), (-0.741, -0.31), (-0.707, -0.21),
             (-0.656, -0.18), (-0.554, -0.14), (-0.384, -0.13), (-0.215, -0.10), (-0.13, -0.12), (-0.087, -0.19),
             (-0.045, -0.15), (0.04, -0.14), (0.125, -0.14), (0.168, -0.12), (0.277, -0.15), (0.322, -0.36),
             (0.345, -0.24), (0.401, -0.31), (0.46, -0.36), (0.52, -0.19), (0.58, -0.16), (0.681, -0.28),
             (0.818, -0.28), (0.836, -0.48), (0.872, -0.48), (0.89, -0.58), (0.925, -0.49), (0.961, -0.52),
             (0.997, -0.48), (1.045, -0.57), (1.063, -0.68), (1.087, -0.67), (1.117, -0.60), (1.147, -0.45),
             (1.176, -0.28), (1.206, -0.13), (1.224, -0.51), (1.242, -1.02), (1.26, -0.83), (1.275, -1.03),
             (1.3, -0.89)]

mn_dz2_up = [(-2.0, 1.30), (-1.984, 1.62), (-1.969, 1.80), (-1.95, 1.61), (-1.936, 1.38), (-1.919, 0.94),
             (-1.905, 0.83), (-1.891, 1.02), (-1.874, 1.56), (-1.86, 0.82), (-1.84, 0.74), (-1.809, 0.97),
             (-1.792, 0.74), (-1.775, 0.65), (-1.758, 0.56), (-1.738, 0.54), (-1.721, 0.49), (-1.698, 0.61),
             (-1.664, 0.70), (-1.642, 0.64), (-1.63, 0.41), (-1.613, 0.26), (-1.591, 0.21), (-1.562, 0.18),
             (-1.545, 0.20), (-1.529, 0.31), (-1.5, 1.22), (-1.484, 0.69), (-1.466, 0.56), (-1.438, 0.76),
             (-1.421, 0.82), (-1.404, 0.83), (-1.387, 0.89), (-1.37, 1.03), (-1.353, 1.04), (-1.339, 1.85),
             (-1.322, 3.26), (-1.305, 2.83), (-1.29, 2.74), (-1.274, 3.87), (-1.257, 1.83), (-1.243, 0.60),
             (-1.223, 0.54), (-1.212, 0.47), (-1.195, 0.44), (-1.178, 0.36), (-1.161, 0.41), (-1.143, 0.36),
             (-1.127, 0.31), (-1.11, 0.26), (-1.093, 0.28), (-1.07, 0.31), (-1.048, 0.28), (-1.019, 0.21),
             (-0.985, 0.19), (-0.934, 0.19), (-0.89, 0.17), (-0.855, 0.16), (-0.833, 0.12), (-0.776, 0.10),
             (-0.72, 0.13), (-0.663, 0.10), (-0.469, 0.12), (-0.299, 0.12), (-0.265, 0.21), (-0.248, 0.12),
             (-0.1, 0.08), (0.1, 0.07), (0.4, 0.06), (0.8, 0.07), (1.2, 0.05), (1.3, 0.05)]
mn_dz2_dn = [(-2.0, -0.08), (-1.9, -0.07), (-1.821, -0.08), (-1.807, -0.33), (-1.79, -0.27), (-1.774, -0.32),
             (-1.758, -0.26), (-1.726, -0.28), (-1.703, -0.09), (-1.6, -0.07), (-1.4, -0.07), (-1.2, -0.06),
             (-1.06, -0.05), (-0.809, -0.06), (-0.783, -0.11), (-0.758, -0.13), (-0.732, -0.055), (-0.681, -0.03),
             (-0.469, -0.02), (-0.215, -0.03), (-0.13, -0.05), (0.0, -0.08), (0.268, -0.10), (0.35, -0.15),
             (0.40, -0.22), (0.424, -0.17), (0.454, -0.13), (0.496, -0.12), (0.52, -0.13), (0.549, -0.09),
             (0.58, -0.10), (0.609, -0.15), (0.639, -0.25), (0.663, -0.39), (0.681, -0.54), (0.696, -0.63),
             (0.711, -1.40), (0.726, -0.80), (0.758, -0.79), (0.788, -0.77), (0.806, -0.83), (0.824, -0.94),
             (0.842, -1.26), (0.857, -2.20), (0.872, -2.72), (0.887, -3.40), (0.905, -3.27), (0.921, -3.77),
             (0.937, -1.93), (0.955, -1.50), (0.973, -1.21), (0.997, -0.97), (1.027, -0.77), (1.057, -0.63),
             (1.093, -0.45), (1.135, -0.28), (1.176, -0.07), (1.212, -0.01), (1.242, -0.23), (1.26, -0.20),
             (1.278, -0.23), (1.3, -0.22)]

mn_dxz_up = [(-2.0, 0.60), (-1.981, 0.69), (-1.967, 0.76), (-1.95, 0.80), (-1.919, 0.97), (-1.905, 1.07),
             (-1.888, 1.22), (-1.872, 1.31), (-1.857, 0.82), (-1.84, 0.59), (-1.823, 0.71), (-1.809, 0.79),
             (-1.792, 0.75), (-1.775, 0.70), (-1.76, 0.75), (-1.743, 0.92), (-1.727, 1.06), (-1.71, 1.22),
             (-1.696, 1.22), (-1.679, 1.07), (-1.661, 0.94), (-1.647, 0.79), (-1.63, 0.46), (-1.613, 0.30),
             (-1.582, 0.31), (-1.565, 0.39), (-1.548, 0.45), (-1.531, 0.51), (-1.517, 1.04), (-1.5, 1.47),
             (-1.484, 1.12), (-1.469, 0.71), (-1.452, 0.50), (-1.438, 0.79), (-1.421, 1.12), (-1.404, 0.99),
             (-1.387, 1.02), (-1.37, 1.32), (-1.356, 1.90), (-1.339, 1.75), (-1.322, 1.33), (-1.308, 1.33),
             (-1.294, 1.50), (-1.274, 2.31), (-1.257, 1.45), (-1.243, 0.93), (-1.226, 0.99), (-1.209, 0.95),
             (-1.195, 0.85), (-1.178, 0.79), (-1.161, 0.91), (-1.143, 0.77), (-1.13, 0.66), (-1.113, 0.46),
             (-1.096, 0.34), (-1.082, 0.32), (-1.065, 0.33), (-1.048, 0.41), (-1.033, 0.36), (-1.016, 0.28),
             (-0.999, 0.28), (-0.985, 0.34), (-0.968, 0.34), (-0.946, 0.31), (-0.89, 0.27), (-0.833, 0.26),
             (-0.72, 0.28), (-0.663, 0.24), (-0.588, 0.19), (-0.55, 0.20), (-0.418, 0.12), (-0.299, 0.10),
             (-0.13, 0.07), (0.268, 0.02), (0.6, 0.02), (1.0, 0.02), (1.3, 0.02)]
mn_dxz_dn = [(-2.0, -0.06), (-1.9, -0.06), (-1.8, -0.07), (-1.75, -0.07), (-1.6, -0.07), (-1.52, -0.10),
             (-1.497, -0.15), (-1.45, -0.13), (-1.4, -0.09), (-1.3, -0.08), (-1.2, -0.08), (-1.132, -0.11),
             (-1.069, -0.18), (-1.033, -0.21), (-1.006, -0.16), (-0.979, -0.12), (-0.919, -0.11), (-0.851, -0.14),
             (-0.809, -0.18), (-0.775, -0.22), (-0.741, -0.18), (-0.707, -0.18), (-0.664, -0.21), (-0.647, -0.29),
             (-0.622, -0.23), (-0.588, -0.16), (-0.537, -0.12), (-0.469, -0.09), (-0.418, -0.11), (-0.367, -0.09),
             (-0.316, -0.11), (-0.265, -0.06), (-0.215, -0.05), (-0.13, -0.06), (-0.079, -0.15), (-0.045, -0.12),
             (0.006, -0.14), (0.04, -0.12), (0.083, -0.14), (0.125, -0.15), (0.135, -0.19), (0.164, -0.13),
             (0.232, -0.13), (0.271, -0.15), (0.345, -0.31), (0.40, -0.29), (0.436, -0.33), (0.46, -0.31),
             (0.484, -0.35), (0.499, -0.31), (0.519, -0.41), (0.537, -0.29), (0.573, -0.23), (0.609, -0.23),
             (0.663, -0.26), (0.692, -0.19), (0.734, -0.20), (0.788, -0.26), (0.854, -0.36), (0.908, -0.39),
             (0.926, -0.45), (0.967, -0.35), (1.027, -0.23), (1.057, -0.19), (1.117, -0.16), (1.165, -0.10),
             (1.194, -0.04), (1.212, -0.01), (1.242, -0.48), (1.26, -0.39), (1.278, -0.39), (1.3, -0.31)]

mn_dx2_up = [(-2.0, 1.00), (-1.981, 1.16), (-1.964, 1.25), (-1.95, 1.30), (-1.936, 1.31), (-1.919, 1.42),
             (-1.902, 1.60), (-1.888, 1.93), (-1.872, 2.08), (-1.857, 1.30), (-1.84, 0.71), (-1.823, 0.87),
             (-1.809, 0.92), (-1.792, 0.97), (-1.775, 0.82), (-1.76, 0.64), (-1.743, 0.60), (-1.727, 0.55),
             (-1.71, 0.51), (-1.693, 0.49), (-1.679, 0.42), (-1.661, 0.45), (-1.645, 0.42), (-1.628, 0.31),
             (-1.613, 0.26), (-1.596, 0.21), (-1.579, 0.17), (-1.563, 0.21), (-1.546, 0.26), (-1.529, 0.32),
             (-1.514, 0.56), (-1.5, 1.07), (-1.483, 0.95), (-1.469, 0.51), (-1.452, 0.41), (-1.438, 0.64),
             (-1.418, 0.84), (-1.404, 0.76), (-1.387, 0.71), (-1.373, 0.75), (-1.356, 0.59), (-1.339, 0.57),
             (-1.32, 0.58), (-1.305, 0.55), (-1.288, 0.56), (-1.274, 0.69), (-1.257, 0.51), (-1.243, 0.37),
             (-1.223, 0.35), (-1.206, 0.33), (-1.189, 0.32), (-1.172, 0.37), (-1.155, 0.39), (-1.143, 0.40),
             (-1.127, 0.37), (-1.113, 0.31), (-1.096, 0.23), (-1.082, 0.26), (-1.05, 0.28), (-1.033, 0.27),
             (-1.016, 0.22), (-0.999, 0.21), (-0.968, 0.22), (-0.89, 0.24), (-0.855, 0.26), (-0.833, 0.24),
             (-0.799, 0.26), (-0.742, 0.27), (-0.725, 0.33), (-0.708, 0.33), (-0.685, 0.28), (-0.663, 0.22),
             (-0.618, 0.19), (-0.584, 0.22), (-0.561, 0.19), (-0.527, 0.18), (-0.465, 0.18), (-0.418, 0.16),
             (-0.299, 0.16), (-0.265, 0.17), (-0.248, 0.14), (-0.13, 0.12), (0.04, 0.09), (0.268, 0.05),
             (0.4, 0.07), (0.549, 0.12), (0.58, 0.09), (0.788, 0.10), (1.194, 0.12), (1.212, 0.15), (1.3, 0.07)]
mn_dx2_dn = [(-2.0, -0.03), (-1.9, -0.02), (-1.82, -0.03), (-1.79, -0.08), (-1.75, -0.06), (-1.65, -0.05),
             (-1.55, -0.03), (-1.5, -0.05), (-1.4, -0.04), (-1.3, -0.04), (-1.132, -0.06), (-1.085, -0.18),
             (-1.053, -0.26), (-1.033, -0.28), (-1.006, -0.23), (-0.982, -0.15), (-0.95, -0.12), (-0.928, -0.12),
             (-0.894, -0.12), (-0.851, -0.15), (-0.809, -0.18), (-0.707, -0.16), (-0.656, -0.17), (-0.605, -0.15),
             (-0.554, -0.13), (-0.469, -0.12), (-0.384, -0.13), (-0.299, -0.15), (-0.215, -0.18), (-0.172, -0.245),
             (-0.147, -0.29), (-0.113, -0.28), (-0.079, -0.31), (-0.045, -0.29), (-0.002, -0.33), (0.023, -0.29),
             (0.066, -0.31), (0.1, -0.34), (0.125, -0.39), (0.146, -0.23), (0.176, -0.21), (0.232, -0.25),
             (0.277, -0.19), (0.311, -0.20), (0.345, -0.24), (0.40, -0.26), (0.436, -0.29), (0.46, -0.26),
             (0.49, -0.31), (0.52, -0.29), (0.58, -0.32), (0.627, -0.38), (0.675, -0.44), (0.693, -0.38),
             (0.711, -0.55), (0.729, -0.41), (0.77, -0.39), (0.818, -0.41), (0.842, -0.47), (0.857, -0.52),
             (0.872, -0.31), (0.908, -0.32), (0.937, -0.23), (0.973, -0.19), (1.015, -0.12), (1.057, -0.10),
             (1.117, -0.12), (1.165, -0.09), (1.194, -0.06), (1.212, -0.03), (1.227, -0.49), (1.245, -0.94),
             (1.26, -0.70), (1.278, -0.74), (1.3, -0.64)]

labels = ["Co (dxy)", "Co (dyz)", "Co (dz2)", "Co (dxz)", "Co (dx2)",
          "Mn (dxy)", "Mn (dyz)", "Mn (dz2)", "Mn (dxz)", "Mn (dx2)"]
colors = ["#F0A3FF", "#0075DC", "#993F00", "#4C005C", "#426600",
          "#FF0010", "#9DCC00", "#C20088", "#003380", "#FFA405"]
spin_up = [co_dxy_up, co_dyz_up, co_dz2_up, co_dxz_up, co_dx2_up,
           mn_dxy_up, mn_dyz_up, mn_dz2_up, mn_dxz_up, mn_dx2_up]
spin_dn = [co_dxy_dn, co_dyz_dn, co_dz2_dn, co_dxz_dn, co_dx2_dn,
           mn_dxy_dn, mn_dyz_dn, mn_dz2_dn, mn_dxz_dn, mn_dx2_dn]

plt.rcParams["font.family"] = ["Liberation Sans", "DejaVu Sans"]

fig = plt.figure(figsize=(3955 / 300, 2833 / 300), dpi=300)
ax = fig.add_axes([0.0491, 0.1168, 0.941, 0.8698])

for lab, col, up, dn in zip(labels, colors, spin_up, spin_dn):
    for k, pts in enumerate((up, dn)):
        e, d = zip(*pts)
        ax.plot(e, d, color=col, lw=2.7, label=lab if k == 0 else None)
        ax.fill_between(e, d, 0, color=col, alpha=0.25, lw=0)

ax.set_xlim(-2.0, 1.3)
ax.set_ylim(-4.885, 4.885)
ax.set_xticks([-2.0, -1.5, -1.0, -0.5, 0.0, 0.5, 1.0])
ax.set_yticks([])
ax.tick_params(axis="x", direction="in", length=19, width=1.5, labelsize=28.5, pad=11)
for sp in ax.spines.values():
    sp.set_linewidth(2.1)
ax.set_xlabel("Energy (eV)", fontsize=29, labelpad=5)
ax.set_ylabel("Arb. units", fontsize=29, labelpad=10)
ax.legend(loc="upper right", ncol=2, frameon=False, fontsize=25, borderaxespad=0.6,
          handlelength=1.6, labelspacing=0.5, columnspacing=2.0)

fig.savefig("out.png", dpi=300)
